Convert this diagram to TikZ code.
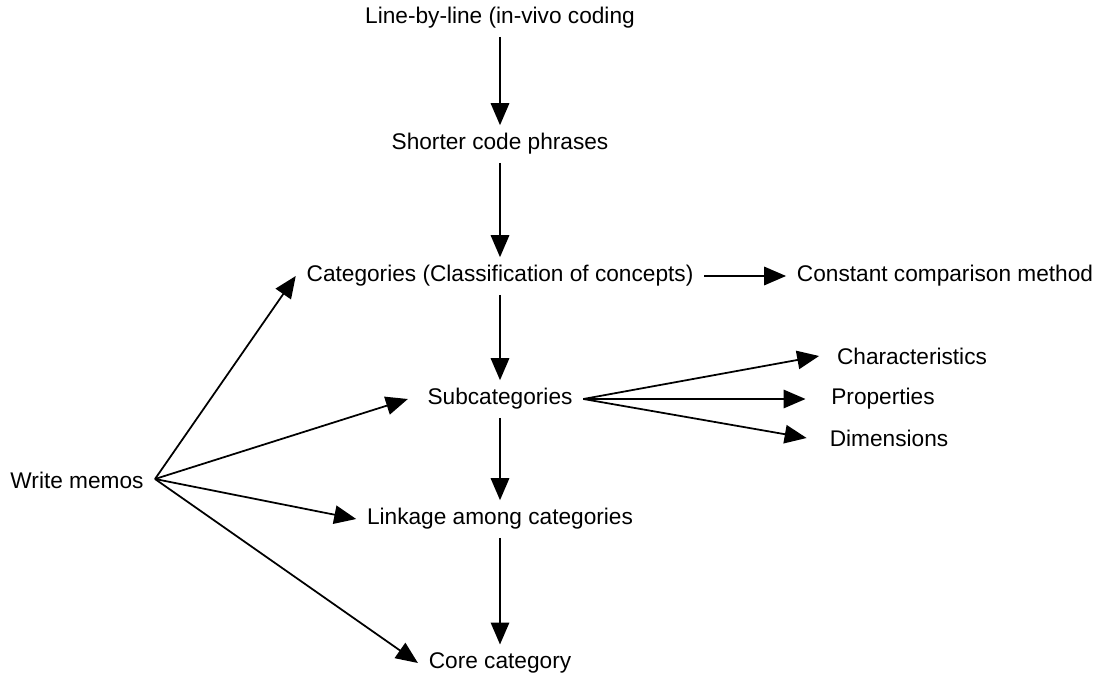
\documentclass[tikz,border=0pt]{standalone}
\usepackage{fontspec}
\setmainfont{Liberation Sans}
\usetikzlibrary{arrows.meta}
\tikzset{
  lbl/.style={inner xsep=6pt,inner ysep=4.5pt,font=\fontsize{12.9pt}{15pt}\selectfont},
  arr/.style={-{Triangle[length=12.5pt,width=10.5pt]},line width=1pt}
}
\begin{document}
\begin{tikzpicture}[x=0.02cm,y=-0.02cm]
  \useasboundingbox (0,0) rectangle (1097,678);
  % main column
  \path (500,18) node[lbl] (line) {Line-by-line (in-vivo coding};
  \path (500,144) node[lbl] (short) {Shorter code phrases};
  \path (500,276) node[lbl] (cat) {Categories (Classification of concepts)};
  \path (500,399) node[lbl] (sub) {Subcategories};
  \path (500,519) node[lbl] (link) {Linkage among categories};
  \path (500,663) node[lbl] (core) {Core category};
  % right side
  \path (945,276) node[lbl] (const) {Constant comparison method};
  \path (912,356) node[lbl] (chars) {Characteristics};
  \path (883,399) node[lbl] (props) {Properties};
  \path (889,438) node[lbl] (dims) {Dimensions};
  % left side
  \path (77,480) node[lbl] (memo) {Write memos};
  \coordinate (hub) at (155,479);
  \draw[arr] (line) -- (short);
  \draw[arr] (short) -- (cat);
  \draw[arr] (cat) -- (sub);
  \draw[arr] (sub) -- (link);
  \draw[arr] (link) -- (core);
  \draw[arr] (cat) -- (const);
  \draw[arr] (sub.east) -- ([xshift=-4pt]chars.west);
  \draw[arr] (sub.east) -- ([xshift=-8.5pt]props.west);
  \draw[arr] (sub.east) -- ([xshift=-7pt]dims.west);
  \draw[arr] (hub) -- (cat.west);
  \draw[arr] (hub) -- ([xshift=-5pt]sub.west);
  \draw[arr] (hub) -- (link.west);
  \draw[arr] (hub) -- (core.west);
\end{tikzpicture}
\end{document}
